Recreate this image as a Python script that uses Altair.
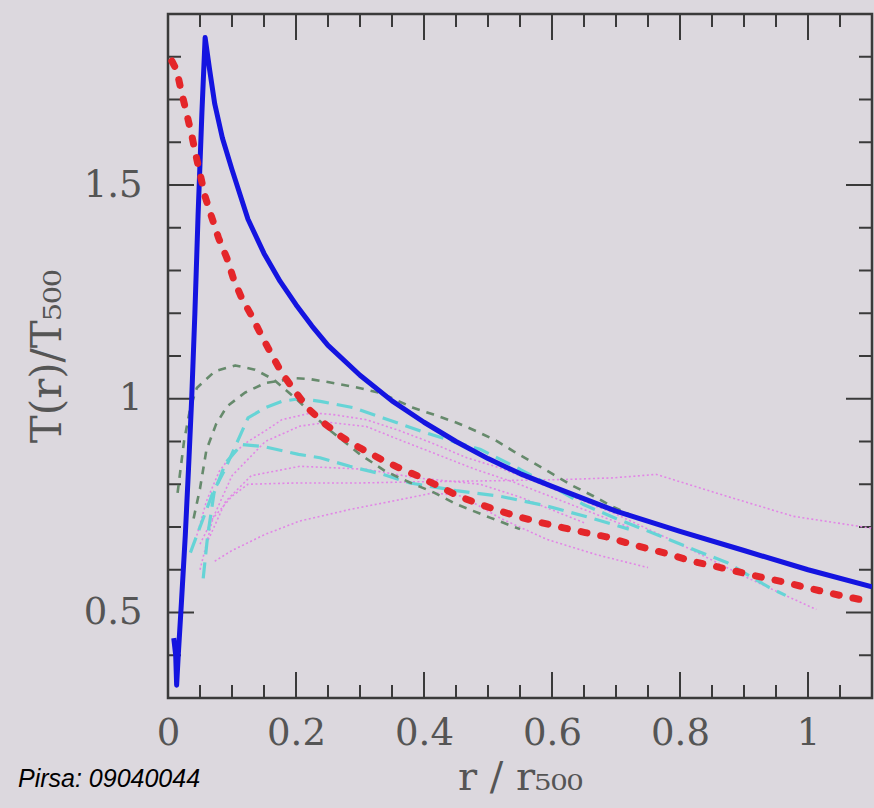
import altair as alt
import pandas as pd

# ---------------- data ----------------
blue_x = [0.009, 0.012, 0.0135, 0.016, 0.021, 0.027, 0.032, 0.037, 0.042, 0.047, 0.053, 0.058,
          0.065, 0.073, 0.085, 0.1, 0.125, 0.15, 0.175, 0.2, 0.225, 0.25, 0.3, 0.35, 0.4, 0.45,
          0.5, 0.55, 0.6, 0.7, 0.8, 0.9, 1.0, 1.1]
blue_y = [0.44, 0.40, 0.33, 0.40, 0.524, 0.68, 0.835, 1.0, 1.2, 1.43, 1.67, 1.845,
          1.77, 1.69, 1.61, 1.536, 1.42, 1.34, 1.275, 1.22, 1.17, 1.125, 1.055, 0.995, 0.945, 0.9,
          0.86, 0.825, 0.795, 0.737, 0.69, 0.645, 0.60, 0.56]

red_x = [0.006, 0.0135, 0.021, 0.029, 0.037, 0.045, 0.058, 0.068, 0.079, 0.092, 0.102, 0.115,
         0.131, 0.146, 0.162, 0.178, 0.198, 0.219, 0.243, 0.271, 0.3, 0.331, 0.36, 0.391, 0.422,
         0.454, 0.4875, 0.519, 0.553, 0.584, 0.618, 0.652, 0.685, 0.719, 0.753, 0.784, 0.818,
         0.852, 0.886, 0.92, 0.954, 0.9875, 1.021, 1.053, 1.1]
red_y = [1.79, 1.769, 1.718, 1.668, 1.617, 1.56, 1.473, 1.426, 1.376, 1.329, 1.282, 1.236,
         1.193, 1.148, 1.103, 1.06, 1.018, 0.977, 0.944, 0.911, 0.885, 0.86, 0.839, 0.819, 0.796,
         0.772, 0.753, 0.737, 0.722, 0.71, 0.698, 0.687, 0.677, 0.662, 0.648, 0.636, 0.62,
         0.609, 0.597, 0.585, 0.574, 0.562, 0.55, 0.539, 0.525]

green1_x = [0.015, 0.025, 0.035, 0.045, 0.073, 0.105, 0.136, 0.165, 0.2, 0.25, 0.3, 0.34,
            0.378, 0.415, 0.451, 0.503, 0.55]
green1_y = [0.78, 0.90, 0.98, 1.025, 1.064, 1.078, 1.068, 1.045, 1.0, 0.93, 0.87, 0.83,
            0.804, 0.781, 0.753, 0.722, 0.695]
green2_x = [0.04, 0.05, 0.06, 0.075, 0.092, 0.12, 0.152, 0.2, 0.222, 0.258, 0.29, 0.331,
            0.383, 0.415, 0.451, 0.482, 0.514, 0.54, 0.571, 0.602, 0.633, 0.665, 0.693, 0.72]
green2_y = [0.72, 0.79, 0.88, 0.94, 0.982, 1.014, 1.037, 1.048, 1.046, 1.037, 1.028, 1.014,
            0.979, 0.963, 0.944, 0.924, 0.901, 0.877, 0.85, 0.823, 0.796, 0.772, 0.749, 0.73]

cyan1_x = [0.035, 0.05, 0.07, 0.089, 0.11, 0.125, 0.152, 0.178, 0.205, 0.238, 0.29, 0.336,
           0.4, 0.45, 0.4875, 0.55, 0.6, 0.65, 0.7, 0.769, 0.82, 0.873, 0.94, 0.965]
cyan1_y = [0.64, 0.70, 0.78, 0.835, 0.905, 0.955, 0.979, 0.994, 1.0, 0.994, 0.979, 0.955,
           0.922, 0.898, 0.882, 0.835, 0.795, 0.752, 0.72, 0.679, 0.648, 0.617, 0.558, 0.54]
cyan2_x = [0.055, 0.062, 0.072, 0.09, 0.115, 0.15, 0.204, 0.2375, 0.284, 0.336, 0.378, 0.45,
           0.519, 0.592, 0.659, 0.72]
cyan2_y = [0.58, 0.68, 0.78, 0.85, 0.893, 0.888, 0.870, 0.862, 0.842, 0.823, 0.803, 0.785,
           0.772, 0.749, 0.722, 0.695]

mag1_x = [0.05, 0.07, 0.1, 0.125, 0.2, 0.3, 0.4, 0.5, 0.618, 0.696, 0.763, 0.873, 0.977, 1.1]
mag1_y = [0.66, 0.72, 0.772, 0.80, 0.803, 0.803, 0.806, 0.808, 0.811, 0.815, 0.823, 0.772, 0.725, 0.697]
mag2_x = [0.073, 0.1, 0.152, 0.206, 0.284, 0.3625, 0.415, 0.46, 0.52, 0.592, 0.67, 0.75]
mag2_y = [0.62, 0.645, 0.683, 0.714, 0.741, 0.764, 0.78, 0.772, 0.72, 0.671, 0.635, 0.605]
mag3_x = [0.045, 0.06, 0.08, 0.1, 0.125, 0.152, 0.178, 0.2245, 0.258, 0.31, 0.3625, 0.415,
          0.467, 0.519, 0.6, 0.7, 0.8, 0.9, 0.95, 1.013]
mag3_y = [0.68, 0.76, 0.83, 0.87, 0.9, 0.925, 0.951, 0.967, 0.963, 0.951, 0.925, 0.895,
          0.862, 0.838, 0.79, 0.73, 0.66, 0.585, 0.55, 0.507]
mag4_x = [0.05, 0.07, 0.1, 0.152, 0.206, 0.25, 0.31, 0.36, 0.42, 0.48, 0.54, 0.6, 0.66, 0.72]
mag4_y = [0.6, 0.72, 0.82, 0.9, 0.936, 0.945, 0.935, 0.905, 0.87, 0.835, 0.805, 0.77, 0.735, 0.70]
mag5_x = [0.06, 0.09, 0.13, 0.206, 0.31, 0.388, 0.4875, 0.55, 0.6, 0.65]
mag5_y = [0.66, 0.76, 0.82, 0.842, 0.835, 0.815, 0.80, 0.77, 0.74, 0.71]

x_major = [0.2, 0.4, 0.6, 0.8, 1.0]
x_minor = [0.05, 0.1, 0.15, 0.25, 0.3, 0.35, 0.45, 0.5, 0.55, 0.65, 0.7, 0.75, 0.85, 0.9, 0.95, 1.05]
y_major = [0.5, 1.0, 1.5]
y_minor = [0.4, 0.6, 0.7, 0.8, 0.9, 1.1, 1.2, 1.3, 1.4, 1.6, 1.7, 1.8]
x_labels = [0, 0.2, 0.4, 0.6, 0.8, 1]
y_labels = [0.5, 1, 1.5]

# ---------------- styling ----------------
W, H = 704, 684
BG = "#dcd8de"
TXT = "#555555"
TICK = "#3a3a3a"

def frame(name, xs, ys):
    return pd.DataFrame({"series": name, "x": xs, "y": ys, "i": list(range(len(xs)))})

XS = alt.Scale(domain=[0, 1.1], nice=False, zero=False)
YS = alt.Scale(domain=[0.3, 1.9], nice=False, zero=False)

X_AX = alt.Axis(values=x_labels, format="~g", ticks=False, domain=False, grid=False,
                labelFont="DejaVu Serif", labelFontSize=37, labelColor=TXT, labelPadding=17,
                labelFlush=False, title="r / r₅₀₀", titleFont="DejaVu Serif", titleFontSize=40,
                titleFontWeight="normal", titleColor=TXT, titlePadding=6)
Y_AX = alt.Axis(values=y_labels, format="~g", ticks=False, domain=False, grid=False,
                labelFont="DejaVu Serif", labelFontSize=37, labelColor=TXT, labelPadding=26,
                labelFlush=False, title="T(r)/T₅₀₀", titleFont="DejaVu Serif", titleFontSize=42,
                titleFontWeight="normal", titleColor=TXT, titlePadding=14)

def xenc(field="x"):
    return alt.X(f"{field}:Q", scale=XS, axis=X_AX)

def yenc(field="y"):
    return alt.Y(f"{field}:Q", scale=YS, axis=Y_AX)

def line(df, color, width, dash=None, cap="butt"):
    kw = dict(color=color, strokeWidth=width, strokeCap=cap, clip=True, strokeJoin="round")
    if dash is not None:
        kw["strokeDash"] = dash
    return alt.Chart(df).mark_line(**kw).encode(
        x=xenc(), y=yenc(), detail="series:N", order="i:Q")

mag = pd.concat([frame("m1", mag1_x, mag1_y), frame("m2", mag2_x, mag2_y),
                 frame("m3", mag3_x, mag3_y), frame("m4", mag4_x, mag4_y),
                 frame("m5", mag5_x, mag5_y)])
cyan = pd.concat([frame("c1", cyan1_x, cyan1_y), frame("c2", cyan2_x, cyan2_y)])
green = pd.concat([frame("g1", green1_x, green1_y), frame("g2", green2_x, green2_y)])
blue = frame("b", blue_x, blue_y)
red = frame("r", red_x, red_y)

def xticks(vals, length):
    df = pd.DataFrame({"v": vals})
    bot = alt.Chart(df).mark_rule(color=TICK, strokeWidth=2).encode(
        x=xenc("v"), y=alt.value(H), y2=alt.value(H - length))
    top = alt.Chart(df).mark_rule(color=TICK, strokeWidth=2).encode(
        x=xenc("v"), y=alt.value(0), y2=alt.value(length))
    return [bot, top]

def yticks(vals, length):
    df = pd.DataFrame({"v": vals})
    left = alt.Chart(df).mark_rule(color=TICK, strokeWidth=2).encode(
        y=yenc("v"), x=alt.value(0), x2=alt.value(length))
    right = alt.Chart(df).mark_rule(color=TICK, strokeWidth=2).encode(
        y=yenc("v"), x=alt.value(W), x2=alt.value(W - length))
    return [left, right]

layers = (xticks(x_major, 26) + xticks(x_minor, 13) + yticks(y_major, 26) + yticks(y_minor, 13)
          + [line(mag, "#e286e6", 1.6, [2, 2.5]),
             line(cyan, "#66d4d6", 3.2, [16, 8]),
             line(green, "#668a6c", 2.6, [8, 7]),
             line(blue, "#1414e0", 5),
             line(red, "#e4262a", 7, [6, 14], "round")])

chart = alt.layer(*layers).properties(
    width=W, height=H,
    padding={"left": 168, "top": 14, "right": 2, "bottom": 110},
    autosize=alt.AutoSizeParams(type="none"),
    background=BG,
    title=alt.TitleParams("Pirsa: 09040044", orient="bottom", anchor="start", frame="group",
                          font="Liberation Sans", fontStyle="italic", fontWeight="normal",
                          fontSize=25, color="#000000", dx=-150, dy=-34),
).configure_view(fill=BG, stroke="#3a3a3a", strokeWidth=2.5)

chart.save("out.html", embed_options={"renderer": "svg", "actions": False})
